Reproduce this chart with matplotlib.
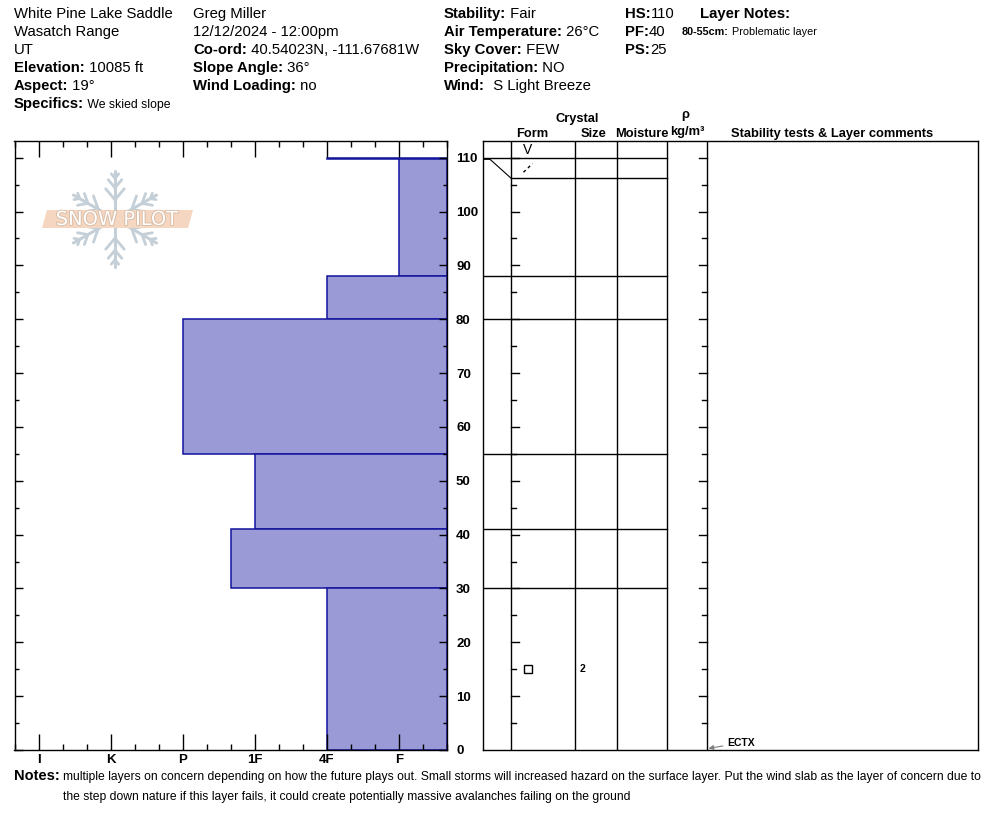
"""
Snow pit profile: hand hardness bars, crystal/layer table and header notes.
"""

import matplotlib

matplotlib.use("Agg")
import matplotlib.patheffects as pe
import matplotlib.pyplot as plt
import numpy as np
from matplotlib.patches import Polygon

plt.rcParams["font.family"] = ["Liberation Sans", "DejaVu Sans"]

# --- pit data -------------------------------------------------------------
HS = 110
LAYER_TOP = [110, 109.7, 88, 80, 55, 41, 30]
LAYER_BOTTOM = [109.7, 88, 80, 55, 41, 30, 0]
LAYER_HARDNESS = ["4F", "F", "4F", "P", "1F", "1F+", "4F"]
LAYER_FORM = ["DF", "", "", "", "", "", "FC"]
LAYER_SIZE = ["", "", "", "", "", "", "2"]
SURFACE_FORM = "SH"
HARDNESS_LABELS = ["F", "4F", "1F", "P", "K", "I"]
TEST_HEIGHT = [0]
TEST_RESULT = ["ECTX"]

# --- header text ----------------------------------------------------------
SITE_LINES = ["White Pine Lake Saddle", "Wasatch Range", "UT"]
SITE_FIELDS = [("Elevation:", " 10085 ft"), ("Aspect:", " 19°")]
SPECIFICS = " We skied slope"
OBSERVER_LINES = ["Greg Miller", "12/12/2024 - 12:00pm"]
OBSERVER_FIELDS = [
    ("Co-ord:", " 40.54023N, -111.67681W"),
    ("Slope Angle:", " 36°"),
    ("Wind Loading:", " no"),
]
WEATHER_FIELDS = [
    ("Stability:", " Fair"),
    ("Air Temperature:", " 26°C"),
    ("Sky Cover:", " FEW"),
    ("Precipitation:", " NO"),
    ("Wind:", "  S Light Breeze"),
]
DEPTH_FIELDS = [("HS:", "110"), ("PF:", "40"), ("PS:", "25")]
LAYER_NOTES = [("80-55cm:", " Problematic layer")]
NOTES_LINES = [
    "multiple layers on concern depending on how the future plays out. Small storms "
    "will increased hazard on the surface layer. Put the wind slab as the layer of "
    "concern due to",
    "the step down nature if this layer fails, it could create potentially massive "
    "avalanches failing on the ground",
]

# --- layout (pixels) ------------------------------------------------------
W, H = 994, 840
Y_TOP = 113.1
COL_X = [483, 511, 575, 617, 667, 707, 978]
MIN_ROW = 3.8
FILL = "#9a9ad6"
EDGE = "#14149c"


def fig_rect(x0, y0, x1, y1):
    return [x0 / W, 1 - y1 / H, (x1 - x0) / W, (y1 - y0) / H]


def hardness_value(code):
    base = HARDNESS_LABELS.index(code.rstrip("+-")) + 1
    if code.endswith("+"):
        return base + 1 / 3
    if code.endswith("-"):
        return base - 1 / 3
    return base


fig = plt.figure(figsize=(W / 100, H / 100), dpi=100)

# Hardness profile
ax_h = fig.add_axes(fig_rect(14.5, 141, 447, 750))
x_right = 1 / 3
ax_h.set_xlim(6.34, x_right)
ax_h.set_ylim(0, Y_TOP)
tops = np.array(LAYER_TOP)
bots = np.array(LAYER_BOTTOM)
hard = np.array([hardness_value(c) for c in LAYER_HARDNESS])
ax_h.barh(bots, hard - x_right, height=tops - bots, left=x_right, align="edge",
          color=FILL, edgecolor=EDGE, linewidth=1.1, zorder=1)

ax_h.set_xticks(np.arange(1, 7))
ax_h.set_xticklabels(HARDNESS_LABELS, fontweight="bold", fontsize=9.5)
ax_h.set_xticks([k / 3 for k in range(1, 20) if k % 3], minor=True)
ax_h.tick_params(axis="x", which="major", direction="in", length=11.5, width=1,
                 top=True, bottom=True, pad=3)
ax_h.tick_params(axis="x", which="minor", direction="in", length=4.3, width=1,
                 top=True, bottom=True)
ax_h.set_yticks(np.arange(0, 111, 10))
ax_h.set_yticklabels([str(v) for v in range(0, 111, 10)], fontweight="bold",
                     fontsize=9.5)
ax_h.set_yticks(np.arange(5, 111, 10), minor=True)
ax_h.tick_params(axis="y", which="both", direction="in", left=True, right=True,
                 labelleft=False, labelright=True, width=1)
ax_h.tick_params(axis="y", which="major", length=6, pad=6.5)
ax_h.tick_params(axis="y", which="minor", length=3.2)
for s in ax_h.spines.values():
    s.set_linewidth(1)

# Crystal / layer table
ax_r = fig.add_axes(fig_rect(COL_X[0], 141, COL_X[-1], 750))
ax_r.set_xlim(COL_X[0], COL_X[-1])
ax_r.set_ylim(0, Y_TOP)
ax_r.set_xticks([])
ax_r.set_yticks([])
for s in ax_r.spines.values():
    s.set_linewidth(1)
for x in COL_X[1:-1]:
    ax_r.plot([x, x], [0, Y_TOP], color="black", lw=1)
for v in range(5, HS + 1, 5):
    major = v % 10 == 0
    ax_r.plot([COL_X[1], COL_X[1] + (7.5 if major else 4.5)], [v, v], color="black", lw=1)
    ax_r.plot([COL_X[5] - (8.5 if major else 5.5), COL_X[5]], [v, v], color="black", lw=1)

# layer rows, thin layers stretched to a minimum height
disp_top, disp_bot = [], []
cur = LAYER_TOP[0]
for t, b in zip(LAYER_TOP, LAYER_BOTTOM):
    top = min(cur, t)
    bot = b if b <= 0 else min(b, top - MIN_ROW)
    disp_top.append(top)
    disp_bot.append(bot)
    cur = bot

ax_r.plot([COL_X[0], COL_X[4]], [HS, HS], color="black", lw=1)
for real, shown in zip(LAYER_BOTTOM, disp_bot):
    if real <= 0:
        continue
    if abs(real - shown) < 1e-6:
        ax_r.plot([COL_X[0], COL_X[4]], [real, real], color="black", lw=1)
    else:
        ax_r.plot([COL_X[1], COL_X[4]], [shown, shown], color="black", lw=1)
        ax_r.plot([COL_X[0], COL_X[0] + 7, COL_X[1]], [real, real, shown],
                  color="black", lw=0.8)

FORM_X, SIZE_X = 528, 583
ax_r.text(FORM_X, (HS + Y_TOP) / 2 - 0.2, "V", ha="center", va="center", fontsize=10)
for t, b, form, size in zip(disp_top, disp_bot, LAYER_FORM, LAYER_SIZE):
    yc = (t + b) / 2
    if form == "DF":
        ax_r.plot([FORM_X - 4.5, FORM_X + 4.5], [yc - 0.8, yc + 0.8], color="black",
                  lw=1, linestyle=(0, (2.2, 2.2)))
    elif form == "FC":
        ax_r.plot([FORM_X], [yc], marker="s", ms=5.2, mfc="white", mec="black", mew=1)
    if size:
        ax_r.text(SIZE_X, yc, size, ha="center", va="center", fontsize=7.5,
                  fontweight="bold")

for h, res in zip(TEST_HEIGHT, TEST_RESULT):
    ax_r.annotate(res, xy=(COL_X[5] + 1.5, h + 0.3), xytext=(727, h + 1.3),
                  fontsize=7.5, fontweight="bold", va="center",
                  arrowprops=dict(arrowstyle="-|>", color="gray", lw=0.8,
                                  mutation_scale=7, shrinkA=1, shrinkB=0))

# Overlay for header, notes and logo, in pixel units
ax_o = fig.add_axes([0, 0, 1, 1])
ax_o.set_xlim(0, W)
ax_o.set_ylim(H, 0)
ax_o.axis("off")
renderer = fig.canvas.get_renderer()


def pair(x, y, label, value, size=10.7, vsize=None):
    t = ax_o.text(x, y, label, fontsize=size, fontweight="bold", va="baseline")
    bb = t.get_window_extent(renderer)
    ax_o.text(bb.x1, y, value, fontsize=vsize or size, va="baseline")


BASE, STEP = 18.3, 18
for i, line in enumerate(SITE_LINES):
    ax_o.text(14, BASE + STEP * i, line, fontsize=10.7, va="baseline")
for i, (lab, val) in enumerate(SITE_FIELDS):
    pair(14, BASE + STEP * (i + 3), lab, val)
pair(14, BASE + STEP * 5, "Specifics:", SPECIFICS, vsize=8.8)

for i, line in enumerate(OBSERVER_LINES):
    ax_o.text(193, BASE + STEP * i, line, fontsize=10.7, va="baseline")
for i, (lab, val) in enumerate(OBSERVER_FIELDS):
    pair(193, BASE + STEP * (i + 2), lab, val)

for i, (lab, val) in enumerate(WEATHER_FIELDS):
    pair(444, BASE + STEP * i, lab, val)
for i, (lab, val) in enumerate(DEPTH_FIELDS):
    pair(625, BASE + STEP * i, lab, val)
ax_o.text(700, BASE, "Layer Notes:", fontsize=10.7, fontweight="bold", va="baseline")
for i, (lab, val) in enumerate(LAYER_NOTES):
    pair(682, BASE + STEP * (i + 1) - 1, lab, val, size=7.8)

# table headings
hd = dict(fontsize=9.3, fontweight="bold", va="baseline", ha="center")
ax_o.text(577, 122, "Crystal", **hd)
ax_o.text(532, 137, "Form", **hd)
ax_o.text(594, 137, "Size", **hd)
ax_o.text(642, 137, "Moisture", **hd)
ax_o.text(685, 118, "ρ", **hd)
ax_o.text(687, 135, "kg/m³", **hd)
ax_o.text(832, 137, "Stability tests & Layer comments", **hd)

# notes
ax_o.text(14, 780, "Notes:", fontsize=10.5, fontweight="bold", va="baseline")
for i, line in enumerate(NOTES_LINES):
    ax_o.text(63, 780 + 20 * i, line, fontsize=8.7, va="baseline")

# logo
cx, cy, arm = 115, 219, 48
flake = "#c4cfd7"
for ang in np.deg2rad([-90, 90, -30, 30, 150, 210]):
    d = np.array([np.cos(ang), np.sin(ang)])
    ax_o.plot([cx, cx + arm * d[0]], [cy, cy + arm * d[1]], color=flake, lw=2.2,
              solid_capstyle="round")
    for frac, blen in [(0.4, 0.3), (0.65, 0.22), (0.85, 0.12)]:
        p = np.array([cx, cy]) + arm * frac * d
        for side in (-1, 1):
            a2 = ang + side * np.deg2rad(40)
            q = p + arm * blen * np.array([np.cos(a2), np.sin(a2)])
            ax_o.plot([p[0], q[0]], [p[1], q[1]], color=flake, lw=2,
                      solid_capstyle="round")
ax_o.add_patch(Polygon([(42, 228), (47, 210), (193, 210), (188, 228)],
                       closed=True, facecolor="#f5d6c0", edgecolor="none", zorder=3))
ax_o.text(117, 219.5, "SNOW PILOT", ha="center", va="center", fontsize=14,
          family="DejaVu Sans", color="white", zorder=4,
          path_effects=[pe.withStroke(linewidth=1.3, foreground="#d8bca6")])

fig.savefig("out.png", dpi=100)
